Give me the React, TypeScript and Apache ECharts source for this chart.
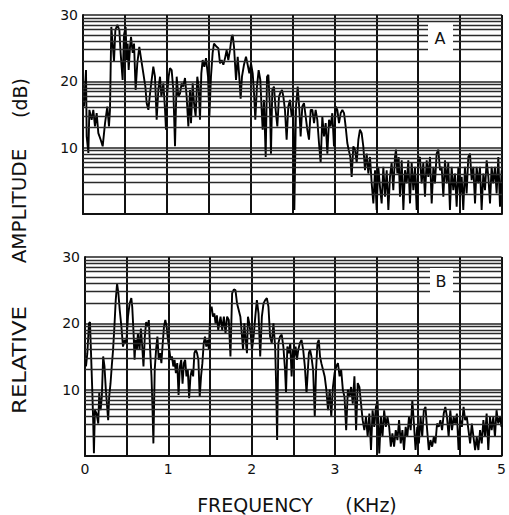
import React, { useEffect, useRef } from "react";
import * as echarts from "echarts";

// Frequency axis (kHz) and amplitude axis (dB)
const xTickLabels = ["0", "1", "2", "3", "4", "5"];
const yTickLabels = ["10", "20", "30"];
const panelLabels = ["A", "B"];

// Spectrum A: [frequency kHz, relative amplitude dB]
const traceA: [number, number][] = [
  [0.012,16.2],[0.036,21.7],[0.044,11.7],[0.064,9.2],[0.076,15.7],[0.103,14.2],[0.123,15.7],[0.143,13.2],[0.163,15.2],[0.183,12.2],
  [0.211,11.2],[0.235,10.2],[0.263,13.7],[0.290,16.2],[0.310,13.2],[0.322,15.7],[0.338,28.2],[0.354,25.7],[0.370,23.0],[0.386,27.7],
  [0.410,28.5],[0.434,27.7],[0.449,24.3],[0.473,20.2],[0.489,27.0],[0.509,28.2],[0.521,23.2],[0.533,25.7],[0.545,21.7],[0.561,25.2],
  [0.573,26.7],[0.593,24.3],[0.609,25.7],[0.628,18.7],[0.648,22.7],[0.672,25.2],[0.692,23.5],[0.720,21.2],[0.744,19.2],[0.760,16.7],
  [0.780,15.7],[0.800,18.2],[0.819,20.2],[0.839,22.2],[0.859,20.7],[0.879,14.2],[0.899,18.7],[0.919,20.7],[0.935,17.7],[0.959,19.7],
  [0.979,15.7],[0.990,12.7],[1.006,18.2],[1.022,20.7],[1.038,22.0],[1.058,21.7],[1.078,18.7],[1.098,10.2],[1.118,20.7],[1.138,17.7],
  [1.158,18.2],[1.177,19.7],[1.197,19.2],[1.217,20.5],[1.237,17.7],[1.257,13.2],[1.277,18.7],[1.289,13.7],[1.309,19.7],[1.325,16.7],
  [1.344,14.7],[1.364,20.7],[1.380,19.2],[1.396,14.2],[1.412,21.2],[1.428,23.2],[1.448,22.2],[1.468,23.5],[1.492,20.7],[1.508,14.7],
  [1.527,20.7],[1.547,24.3],[1.563,25.7],[1.595,25.2],[1.615,25.0],
  [1.635,22.7],[1.655,23.2],[1.675,22.5],[1.695,23.5],[1.714,24.7],[1.734,23.2],[1.754,24.7],[1.774,26.7],[1.786,27.0],[1.802,25.2],
  [1.826,20.2],[1.846,23.7],[1.865,20.7],[1.881,17.4],[1.897,20.7],[1.921,22.5],[1.945,23.7],[1.965,22.5],[1.985,21.2],[2.005,22.7],
  [2.025,21.2],[2.041,18.2],[2.056,14.2],[2.076,19.2],[2.096,21.7],[2.116,20.2],[2.132,15.7],[2.144,12.7],[2.160,17.2],[2.180,8.6],
  [2.196,20.7],[2.212,21.0],[2.232,15.7],[2.243,9.1],[2.259,18.7],[2.279,19.2],[2.299,15.7],[2.319,13.2],[2.339,17.7],[2.359,18.4],
  [2.375,18.7],[2.391,17.7],[2.410,15.7],[2.430,11.2],[2.450,16.2],[2.470,17.2],[2.490,14.7],[2.510,15.7],[2.522,0.6],[2.542,16.2],
  [2.562,19.2],[2.582,15.7],[2.597,11.7],[2.617,16.2],[2.637,16.7],[2.657,14.7],[2.677,12.7],[2.697,11.2],[2.717,15.7],[2.737,15.7],
  [2.757,13.7],[2.776,15.7],[2.796,14.2],[2.816,10.7],[2.836,7.7],[2.856,14.7],[2.876,11.7],[2.896,13.7],[2.916,9.1],[2.936,14.2],
  [2.955,13.2],[2.975,15.2],[2.995,10.2],[3.015,16.2],[3.035,15.7],[3.055,13.7],[3.075,15.2],[3.095,15.7],[3.115,15.2],[3.134,13.2],
  [3.154,10.7],[3.170,9.7],[3.190,8.6],[3.206,5.6],[3.226,10.2],[3.246,9.7],[3.266,7.7],[3.286,11.2],[3.305,12.7],[3.325,12.2],
  [3.345,10.2],[3.365,6.6],[3.385,9.1],[3.405,6.1],[3.425,8.6],[3.445,4.6],[3.465,1.6],[3.485,6.6],[3.504,0.6],[3.524,7.1],
  [3.544,4.1],[3.564,1.6],[3.584,7.1],[3.604,2.6],[3.624,6.6],[3.644,0.6],[3.663,5.6],[3.683,7.7],[3.703,3.6],[3.723,8.6],
  [3.735,9.7],[3.751,6.1],[3.767,8.6],[3.783,2.6],[3.803,8.1],[3.823,0.6],[3.842,6.6],[3.862,4.6],[3.882,8.1],[3.902,1.6],
  [3.922,7.7],[3.942,3.6],[3.962,7.1],[3.982,0.6],[4.002,8.1],[4.021,8.6],[4.041,4.6],[4.061,7.7],[4.081,2.6],[4.101,8.1],
  [4.121,5.6],[4.141,8.6],[4.161,1.6],[4.181,7.1],[4.200,4.6],[4.220,9.1],[4.240,9.7],[4.260,6.6],[4.280,7.1],[4.300,2.6],
  [4.320,8.1],[4.340,4.6],[4.359,7.7],[4.379,0.6],[4.399,7.1],[4.419,3.6],[4.439,6.1],[4.459,1.1],[4.479,7.1],[4.499,2.6],
  [4.519,5.6],[4.538,0.6],[4.558,7.1],[4.578,3.1],[4.598,8.6],[4.618,9.1],[4.638,5.1],[4.658,7.1],[4.678,1.6],[4.697,7.1],
  [4.717,4.6],[4.737,7.1],[4.757,0.6],[4.777,6.1],[4.797,3.6],[4.817,8.1],[4.837,5.6],[4.857,1.6],[4.876,7.1],[4.896,4.6],
  [4.916,7.1],[4.936,3.1],[4.956,8.6],[4.976,1.1],[4.996,6.6]
];

// Spectrum B: [frequency kHz, relative amplitude dB]
const traceB: [number, number][] = [
  [0.012,13.5],[0.028,15.5],[0.048,20.0],[0.060,20.2],[0.071,16.0],[0.087,10.0],[0.099,4.9],[0.107,0.4],[0.119,6.9],[0.139,6.4],
  [0.159,4.9],[0.171,9.5],[0.187,6.9],[0.202,8.9],[0.218,15.0],[0.234,13.5],[0.250,10.0],[0.266,7.4],[0.278,5.4],[0.290,8.9],
  [0.306,10.9],[0.321,13.5],[0.337,16.0],[0.353,19.5],[0.369,23.5],[0.385,26.0],[0.401,24.5],[0.417,22.0],[0.437,19.5],[0.456,16.5],
  [0.476,17.5],[0.496,17.0],[0.516,21.0],[0.536,23.0],[0.556,23.8],[0.567,22.5],[0.583,18.5],[0.595,14.5],[0.607,17.5],[0.623,16.0],
  [0.635,18.5],[0.655,16.0],[0.671,19.2],[0.687,16.5],[0.702,13.5],[0.718,18.0],[0.734,20.2],[0.754,19.5],[0.766,20.5],[0.782,16.0],
  [0.798,12.0],[0.810,7.4],[0.821,1.9],[0.837,13.0],[0.853,16.0],[0.869,18.0],[0.885,14.5],[0.901,15.5],[0.917,14.0],[0.933,17.0],
  [0.948,19.5],[0.964,20.5],[0.980,19.5],[0.996,17.5],[1.012,16.0],[1.028,14.5],[1.044,15.0],[1.060,13.5],[1.075,14.5],[1.091,12.5],
  [1.107,14.0],[1.123,9.2],[1.139,13.5],[1.155,14.5],[1.171,10.9],[1.187,14.0],[1.202,14.5],[1.218,12.0],[1.234,13.0],[1.250,8.7],
  [1.266,12.0],[1.282,13.0],[1.298,12.0],[1.313,15.5],[1.329,16.0],[1.345,15.5],[1.361,14.5],[1.377,8.9],[1.393,12.0],[1.409,14.0],
  [1.425,17.0],[1.440,18.0],[1.456,16.5],[1.472,17.5],[1.488,16.0],[1.504,22.0],[1.520,22.5],[1.536,21.0],[1.552,21.5],[1.567,20.0],
  [1.583,21.2],[1.599,19.0],
  [1.627,21.0],[1.647,19.0],[1.667,21.0],[1.687,18.5],[1.706,21.0],[1.726,20.5],[1.746,15.0],[1.766,24.5],[1.786,25.1],[1.806,25.0],
  [1.825,23.0],[1.845,22.0],[1.865,21.0],[1.885,18.0],[1.897,16.0],[1.913,20.0],[1.925,18.0],[1.944,15.5],[1.956,21.0],[1.972,20.0],
  [1.988,18.5],[2.004,16.0],[2.024,18.0],[2.044,21.0],[2.063,23.5],[2.083,21.5],[2.103,15.0],[2.123,21.0],[2.143,23.0],[2.163,23.5],
  [2.183,23.8],[2.202,22.5],[2.222,18.0],[2.242,17.0],[2.262,20.0],[2.282,16.5],[2.294,10.9],[2.306,2.4],[2.321,17.0],[2.341,18.0],
  [2.361,18.3],[2.381,16.5],[2.401,13.0],[2.413,9.5],[2.429,16.5],[2.448,15.5],[2.464,17.0],[2.480,12.0],[2.496,16.0],[2.512,15.0],
  [2.528,16.5],[2.544,14.5],[2.560,16.0],[2.579,17.0],[2.599,17.5],[2.619,16.0],[2.639,13.5],[2.659,9.5],[2.671,12.0],[2.687,15.5],
  [2.702,16.0],[2.718,15.0],[2.738,13.0],[2.758,5.9],[2.774,13.0],[2.790,17.0],[2.806,17.5],[2.821,15.0],[2.837,14.0],[2.857,13.0],
  [2.877,12.0],[2.897,10.0],[2.917,6.9],[2.937,10.0],[2.956,5.9],[2.976,10.4],[2.996,12.5],[3.016,13.5],[3.036,14.0],[3.056,12.0],
  [3.075,13.0],[3.095,10.0],[3.115,8.9],[3.135,3.9],[3.155,10.0],[3.175,8.9],[3.194,10.4],[3.214,7.9],[3.234,12.0],[3.254,3.9],
  [3.274,11.0],[3.294,10.4],[3.313,7.9],[3.333,5.4],[3.353,3.9],[3.373,5.9],[3.393,2.9],[3.413,6.4],[3.433,0.9],[3.452,6.9],
  [3.472,4.4],[3.492,7.4],[3.512,8.4],[3.532,0.4],[3.552,5.9],[3.571,2.9],[3.591,6.9],[3.611,4.4],[3.631,5.9],[3.651,4.4],
  [3.671,1.4],[3.690,3.4],[3.710,1.4],[3.730,3.9],[3.750,2.4],[3.770,5.4],[3.790,1.9],[3.810,3.9],[3.829,0.9],[3.849,4.4],
  [3.869,2.9],[3.889,5.9],[3.909,3.9],[3.929,8.4],[3.948,4.9],[3.968,0.9],[3.988,4.4],[4.008,1.9],[4.028,5.9],[4.048,2.9],
  [4.067,6.9],[4.087,7.4],[4.107,3.9],[4.127,0.9],[4.147,2.4],[4.167,1.4],[4.187,2.9],[4.206,1.9],[4.226,4.9],[4.246,4.4],
  [4.266,5.4],[4.286,3.9],[4.306,6.4],[4.325,7.4],[4.345,5.9],[4.365,2.9],[4.385,6.9],[4.405,3.9],[4.425,5.9],[4.444,4.9],
  [4.464,6.4],[4.484,0.9],[4.504,5.4],[4.524,4.4],[4.544,7.4],[4.563,5.4],[4.583,5.9],[4.603,3.9],[4.623,1.9],[4.643,4.9],
  [4.663,2.9],[4.683,0.9],[4.702,2.9],[4.722,0.9],[4.742,3.9],[4.762,1.9],[4.782,5.4],[4.802,2.9],[4.821,6.4],[4.841,0.9],
  [4.861,5.9],[4.881,3.9],[4.901,5.9],[4.921,2.9],[4.940,6.9],[4.960,4.9],[4.980,5.9],[5.000,4.4]
];

// Semi-log chart paper rulings: each 10 dB band is one log cycle
const paperCycles = [0, 10, 20];
const paperSteps = [2, 3, 4, 5, 6, 7, 8, 9];
const paperLines = paperCycles.flatMap((b) => paperSteps.map((n) => b + 10 * Math.log10(n)));

const FONT = '"DejaVu Sans", "Liberation Sans", sans-serif';
const INK = "#111";

export default function App() {
  const ref = useRef<HTMLDivElement>(null);

  useEffect(() => {
    if (!ref.current) return;
    const chart = echarts.init(ref.current, undefined, { renderer: "svg" });

    const grids = [
      { left: 83, top: 15, width: 419, height: 199 },
      { left: 85, top: 257, width: 420, height: 199 },
    ];

    const xAxes = grids.map((_, i) => ({
      type: "value",
      gridIndex: i,
      min: 0,
      max: 5,
      interval: 0.5,
      axisLine: { show: true, onZero: false, lineStyle: { color: INK, width: 2 } },
      axisTick: { show: false },
      splitLine: { show: true, lineStyle: { color: INK, width: 2 } },
      axisLabel:
        i === 0
          ? { show: false }
          : {
              show: true,
              margin: 6,
              fontSize: 14,
              fontFamily: FONT,
              color: INK,
              formatter: (v: number) => (Number.isInteger(v) ? xTickLabels[v] : ""),
            },
    }));

    const yAxes = grids.map((_, i) => ({
      type: "value",
      gridIndex: i,
      min: 0,
      max: 30,
      interval: 10,
      axisLine: { show: true, onZero: false, lineStyle: { color: INK, width: 2 } },
      axisTick: { show: false },
      splitLine: { show: true, lineStyle: { color: "#222", width: 1.5 } },
      axisLabel: {
        show: true,
        margin: 5,
        fontSize: 14,
        fontFamily: FONT,
        color: INK,
        formatter: (v: number) => (v === 0 ? "" : yTickLabels[v / 10 - 1]),
      },
    }));

    const traces = [traceA, traceB];
    const series: any[] = [];
    traces.forEach((tr, i) => {
      series.push({
        type: "line",
        xAxisIndex: i,
        yAxisIndex: i,
        data: [],
        silent: true,
        z: 1,
        markLine: {
          silent: true,
          symbol: ["none", "none"],
          label: { show: false },
          lineStyle: { color: "#2a2a2a", width: 1.3, type: "solid" },
          emphasis: { disabled: true },
          data: paperLines.map((v) => ({ yAxis: v })),
        },
      });
      series.push({
        type: "line",
        xAxisIndex: i,
        yAxisIndex: i,
        data: tr,
        showSymbol: false,
        symbol: "none",
        silent: true,
        z: 3,
        lineStyle: { color: "#000", width: 1.9 },
      });
    });

    const labelBoxes = [
      { rect: { x: 428, y: 23, width: 25, height: 30 }, tx: 440, ty: 38 },
      { rect: { x: 430, y: 268, width: 23, height: 25 }, tx: 441, ty: 281 },
    ];

    const graphic: any[] = [];
    labelBoxes.forEach((b, i) => {
      graphic.push({ type: "rect", z: 100, shape: b.rect, style: { fill: "#fff" } });
      graphic.push({
        type: "text",
        z: 101,
        x: b.tx,
        y: b.ty,
        style: { text: panelLabels[i], fontSize: 16, fontFamily: FONT, fill: INK, align: "center", verticalAlign: "middle" },
      });
    });

    const yTitle = [
      { text: "RELATIVE", cy: 360, stretch: 1.2 },
      { text: "AMPLITUDE", cy: 206, stretch: 1.05 },
      { text: "(dB)", cy: 98, stretch: 1.0 },
    ];
    yTitle.forEach((t) => {
      graphic.push({
        type: "text",
        z: 101,
        x: 20,
        y: t.cy,
        rotation: Math.PI / 2,
        scaleX: t.stretch,
        style: { text: t.text, fontSize: 19, fontFamily: FONT, fill: INK, align: "center", verticalAlign: "middle" },
      });
    });
    graphic.push({
      type: "text",
      z: 101,
      x: 255,
      y: 505,
      style: { text: "FREQUENCY", fontSize: 19, fontFamily: FONT, fill: INK, align: "center", verticalAlign: "middle" },
    });
    graphic.push({
      type: "text",
      z: 101,
      x: 371,
      y: 505,
      style: { text: "(KHz)", fontSize: 19, fontFamily: FONT, fill: INK, align: "center", verticalAlign: "middle" },
    });

    chart.setOption({
      animation: false,
      backgroundColor: "#fff",
      grid: grids,
      xAxis: xAxes,
      yAxis: yAxes,
      series,
      graphic,
    });

    return () => chart.dispose();
  }, []);

  return (
    <div
      ref={ref}
      style={{ position: "absolute", left: 0, top: 0, width: 509, height: 515, background: "#fff" }}
    />
  );
}
